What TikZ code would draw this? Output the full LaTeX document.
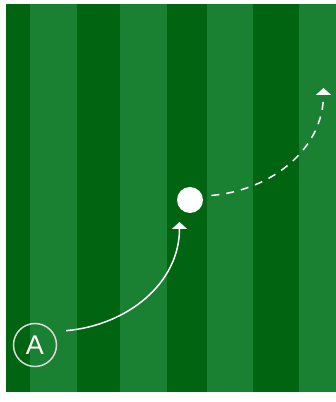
\documentclass[tikz,border=0pt]{standalone}
\usepackage{fontspec}
\setmainfont{Liberation Sans}
\usetikzlibrary{arrows.meta, positioning}
\definecolor{turfdark}{RGB}{0,100,16}
\definecolor{turflight}{RGB}{26,128,50}

\begin{document}
\begin{tikzpicture}[
                x=1pt, y=1pt,
                player/.style={circle, draw=white!85!black, line width=1.5pt, minimum size=43pt, inner sep=0pt, text=white, font=\fontsize{27}{27}\selectfont},
                ballstyle/.style={circle, fill=white, minimum size=26pt, inner sep=0pt},
                run/.style={white, line width=1.5pt},
                shot/.style={run, dash pattern=on 8pt off 7pt},
                >={Triangle[width=15pt,length=7pt]}
            ]

            \useasboundingbox (0,0) rectangle (336,402);
            \fill[turflight] (6,10) rectangle (336,398);
            \foreach \a/\b in {6/30, 77/120, 167/207, 253/299}
                \fill[turfdark] (\a,10) rectangle (\b,398);

            \node[player] (A) at (35,57) {A};
            \node[ballstyle] (ball) at (190,202) {};
            \coordinate (passEnd) at (179.5,180);
            \coordinate (shotEnd) at (323.5,314);

            \draw[run,->] ([xshift=14pt]A.40) to[out=5,in=-90] (passEnd);
            \draw[shot,->] ([xshift=9pt]ball.20) to[out=5,in=-90] (shotEnd);

        \end{tikzpicture}
\end{document}
